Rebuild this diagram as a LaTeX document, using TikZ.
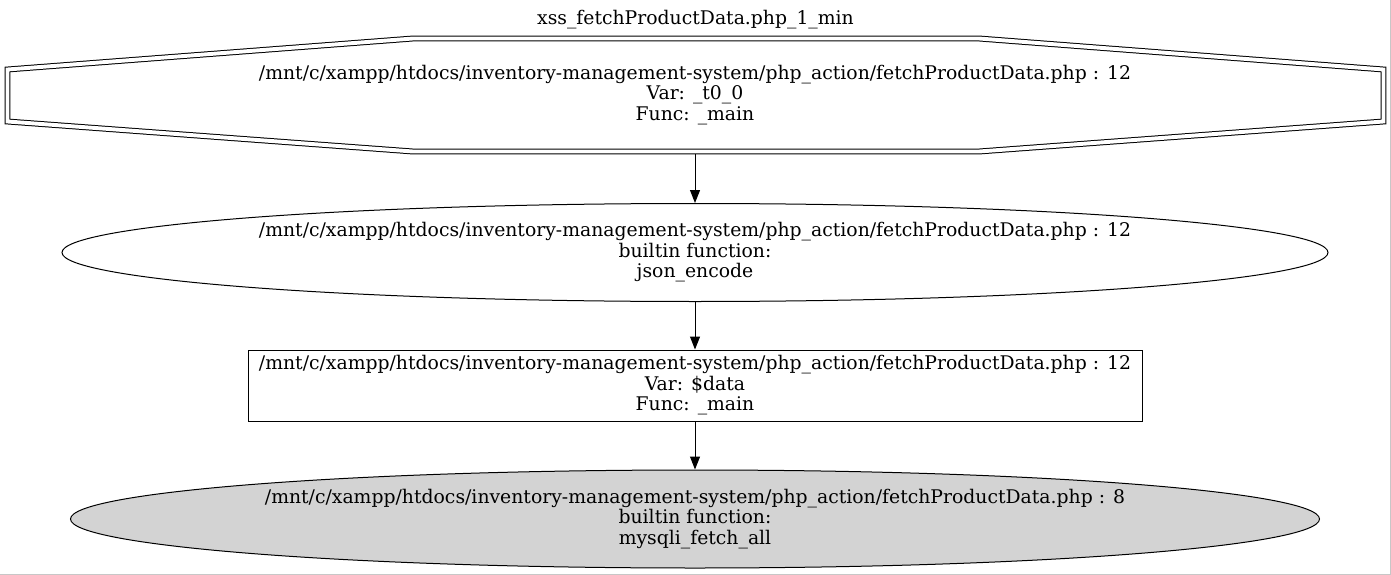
\documentclass[tikz,border=0pt]{standalone}
\usepackage{fontspec}
\setmainfont{DejaVu Serif}
\usepackage{xcolor}
\usetikzlibrary{shapes.geometric}
\usetikzlibrary{arrows.meta}
\definecolor{nodegray}{RGB}{211,211,211}

\begin{document}
\begin{tikzpicture}[x=1pt, y=-1pt,
lbl/.style = {align=center, inner sep=0pt, font=\fontsize{18.8}{20.5}\selectfont},
stmt/.style = {lbl, draw, line width=1pt},
edge/.style = {line width=1pt, -{Triangle[length=13pt, width=10pt]}}]

\useasboundingbox (0,0) rectangle (1391,575);
\draw[color=black!22, line width=1pt] (0,574.5) -- (1390.5,574.5) -- (1390.5,0);

\node[lbl] (title) at (695.5,20) {xss\_fetchProductData.php\_1\_min};

\node[lbl, minimum width=1376pt, minimum height=118pt] (oct) at (695,95) {/mnt/c/xampp/htdocs/inventory-management-system/php\_action/fetchProductData.php : 12\\ Var: \_t0\_0\\ Func: \_main};
\draw[double, double distance=3.9pt, line width=1pt] (7.5,69.5) -- (413,38.5) -- (979,38.5) -- (1383.5,69.5) -- (1383.5,121.5) -- (979,151.5) -- (413,151.5) -- (7.5,121.5) -- cycle;

\node[stmt, ellipse, minimum width=1266pt, minimum height=98pt] (e1) at (695,252.5) {/mnt/c/xampp/htdocs/inventory-management-system/php\_action/fetchProductData.php : 12\\ builtin function:\\ json\_encode};

\node[stmt, minimum width=894pt, minimum height=71pt] (box) at (695,385.5) {/mnt/c/xampp/htdocs/inventory-management-system/php\_action/fetchProductData.php : 12\\ Var: \$data\\ Func: \_main};

\node[stmt, ellipse, fill=nodegray, minimum width=1249pt, minimum height=98pt] (e2) at (695,519) {/mnt/c/xampp/htdocs/inventory-management-system/php\_action/fetchProductData.php : 8\\ builtin function:\\ mysqli\_fetch\_all};

\foreach \i/\j in {oct/e1, e1/box, box/e2}
\draw[edge] (\i) -- (\j);

\end{tikzpicture}
\end{document}
